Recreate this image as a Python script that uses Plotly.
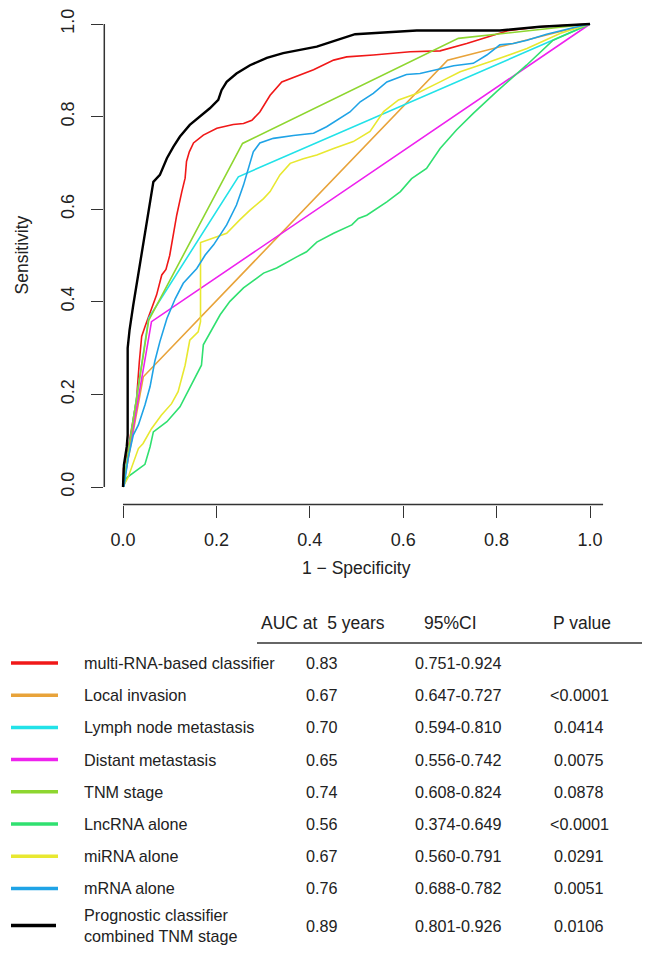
import plotly.graph_objects as go

W, H = 653, 953
OFF = 8  # the page body adds an 8px margin around the plot div
FONT = "Liberation Sans, Arial, Helvetica, sans-serif"

# ROC curves (x = 1 - specificity, y = sensitivity)
multi_fpr = [0, 0.001, 0.010, 0.029, 0.035, 0.038, 0.040, 0.047, 0.058, 0.072, 0.083, 0.092, 0.100,
             0.115, 0.126, 0.133, 0.136, 0.142, 0.151, 0.172, 0.201, 0.236, 0.258, 0.276, 0.293, 0.315,
             0.340, 0.379, 0.408, 0.451, 0.479, 0.536, 0.615, 0.679, 0.736, 0.822, 0.893, 1.0]
multi_tpr = [0, 0.040, 0.076, 0.190, 0.271, 0.307, 0.325, 0.346, 0.375, 0.415, 0.458, 0.470, 0.500,
             0.587, 0.638, 0.667, 0.703, 0.724, 0.743, 0.760, 0.775, 0.783, 0.785, 0.792, 0.810, 0.846,
             0.875, 0.890, 0.901, 0.922, 0.929, 0.933, 0.940, 0.942, 0.958, 0.985, 0.994, 1.0]

local_fpr = [0, 0.0435, 0.695, 1.0]
local_tpr = [0, 0.238, 0.922, 1.0]

lymph_fpr = [0, 0.055, 0.247, 1.0]
lymph_tpr = [0, 0.365, 0.670, 1.0]

distant_fpr = [0, 0.061, 1.0]
distant_tpr = [0, 0.357, 1.0]

tnm_fpr = [0, 0.055, 0.256, 0.718, 1.0]
tnm_tpr = [0, 0.360, 0.742, 0.969, 1.0]

lnc_fpr = [0, 0.009, 0.047, 0.058, 0.065, 0.094, 0.122, 0.143, 0.168, 0.172, 0.186, 0.208, 0.229,
           0.258, 0.301, 0.329, 0.372, 0.393, 0.415, 0.451, 0.490, 0.504, 0.522, 0.565, 0.594, 0.618,
           0.650, 0.679, 0.714, 0.750, 0.800, 0.864, 0.921, 1.0]
lnc_tpr = [0, 0.021, 0.049, 0.087, 0.119, 0.141, 0.173, 0.213, 0.263, 0.307, 0.332, 0.372, 0.401,
           0.430, 0.462, 0.473, 0.497, 0.508, 0.529, 0.548, 0.566, 0.580, 0.587, 0.616, 0.638, 0.666,
           0.688, 0.731, 0.771, 0.807, 0.854, 0.911, 0.965, 1.0]

mi_fpr = [0, 0.011, 0.033, 0.043, 0.061, 0.082, 0.104, 0.118, 0.133, 0.143, 0.161, 0.166, 0.166,
          0.186, 0.222, 0.250, 0.272, 0.301, 0.315, 0.336, 0.358, 0.386, 0.415, 0.451, 0.493, 0.529,
          0.558, 0.590, 0.629, 0.679, 0.722, 0.787, 0.865, 0.937, 1.0]
mi_tpr = [0, 0.021, 0.083, 0.094, 0.126, 0.155, 0.180, 0.206, 0.263, 0.317, 0.335, 0.357, 0.528,
          0.535, 0.548, 0.577, 0.598, 0.623, 0.638, 0.674, 0.699, 0.709, 0.717, 0.731, 0.746, 0.768,
          0.811, 0.836, 0.850, 0.875, 0.897, 0.919, 0.947, 0.980, 1.0]

m_fpr = [0.002, 0.011, 0.022, 0.033, 0.047, 0.058, 0.068, 0.079, 0.094, 0.112, 0.129, 0.158, 0.176,
         0.194, 0.222, 0.243, 0.258, 0.268, 0.279, 0.293, 0.322, 0.365, 0.408, 0.436, 0.465, 0.486,
         0.508, 0.536, 0.565, 0.607, 0.636, 0.679, 0.708, 0.750, 0.779, 0.807, 0.836, 0.865, 0.907,
         0.964, 1.0]
m_tpr = [0, 0.062, 0.112, 0.134, 0.177, 0.217, 0.271, 0.314, 0.364, 0.407, 0.440, 0.472, 0.501,
         0.523, 0.566, 0.609, 0.652, 0.688, 0.724, 0.743, 0.753, 0.759, 0.764, 0.778, 0.796, 0.810,
         0.832, 0.850, 0.875, 0.891, 0.893, 0.904, 0.910, 0.915, 0.933, 0.955, 0.958, 0.965, 0.978,
         0.992, 1.0]

prog_fpr = [0, 0.002, 0.008, 0.010, 0.010, 0.014, 0.022, 0.029, 0.036, 0.051, 0.058, 0.065, 0.079,
            0.094, 0.108, 0.122, 0.143, 0.165, 0.186, 0.204, 0.211, 0.222, 0.243, 0.272, 0.308, 0.343,
            0.400, 0.415, 0.451, 0.497, 0.629, 0.807, 0.893, 1.0]
prog_tpr = [0, 0.048, 0.087, 0.112, 0.300, 0.339, 0.393, 0.436, 0.486, 0.573, 0.616, 0.659, 0.674,
            0.710, 0.735, 0.757, 0.782, 0.800, 0.818, 0.836, 0.857, 0.875, 0.893, 0.911, 0.927, 0.937,
            0.947, 0.951, 0.963, 0.978, 0.986, 0.986, 0.994, 1.0]

# table
labels = ["multi-RNA-based classifier", "Local invasion", "Lymph node metastasis", "Distant metastasis",
          "TNM stage", "LncRNA alone", "miRNA alone", "mRNA alone",
          "Prognostic classifier<br>combined TNM stage"]
auc = ["0.83", "0.67", "0.70", "0.65", "0.74", "0.56", "0.67", "0.76", "0.89"]
ci = ["0.751-0.924", "0.647-0.727", "0.594-0.810", "0.556-0.742", "0.608-0.824", "0.374-0.649",
      "0.560-0.791", "0.688-0.782", "0.801-0.926"]
pvals = ["", "<0.0001", "0.0414", "0.0075", "0.0878", "<0.0001", "0.0291", "0.0051", "0.0106"]
colors = ["#F01818", "#E8A33A", "#22E2E8", "#EE22EE", "#8ED630", "#30E070", "#E8E830", "#1FA3E6", "#000000"]
curves = [(multi_fpr, multi_tpr), (local_fpr, local_tpr), (lymph_fpr, lymph_tpr), (distant_fpr, distant_tpr),
          (tnm_fpr, tnm_tpr), (lnc_fpr, lnc_tpr), (mi_fpr, mi_tpr), (m_fpr, m_tpr), (prog_fpr, prog_tpr)]
ticks = [0, 0.2, 0.4, 0.6, 0.8, 1.0]
tick_text = ["0.0", "0.2", "0.4", "0.6", "0.8", "1.0"]


def px(x):
    return (x - OFF) / W


def py(y):
    return 1 - (y - OFF) / H


fig = go.Figure()
for (fx, fy), col in zip(curves, colors):
    fig.add_trace(go.Scatter(x=fx, y=fy, mode="lines", hoverinfo="skip", showlegend=False,
                             line=dict(color=col, width=2.4 if col == "#000000" else 1.6)))

axis_common = dict(tickvals=ticks, ticktext=tick_text, ticks="outside", ticklen=12,
                   tickwidth=1.3, tickcolor="#333", showline=False, showgrid=False, zeroline=False,
                   tickfont=dict(size=18, color="#222", family=FONT), automargin=False, fixedrange=True)

# pixel frame of the data: x 0..1 -> 123..590, y 0..1 -> 487..24
x_lo, x_hi = 104.3, 608.7
y_top, y_bot = OFF, 504.5
fig.update_layout(
    width=W, height=H,
    margin=dict(l=0, r=0, t=0, b=0),
    paper_bgcolor="white", plot_bgcolor="white",
    font=dict(family=FONT, color="#222"),
    xaxis=dict(domain=[px(x_lo), px(x_hi)],
               range=[(x_lo - 123) / 467, (x_hi - 123) / 467],
               ticklabelstandoff=7, **axis_common),
    yaxis=dict(domain=[py(y_bot), py(y_top)],
               range=[(487 - y_bot) / 463, (487 - y_top) / 463],
               tickangle=-90, ticklabelstandoff=10, **axis_common),
)

# R-style axis lines
fig.add_shape(type="line", xref="x domain", yref="y", x0=0, x1=0, y0=0, y1=1,
              line=dict(color="#333", width=1.5))
fig.add_shape(type="line", xref="x", yref="y domain", x0=0, x1=1.028, y0=0, y1=0,
              line=dict(color="#333", width=1.5))

fig.add_annotation(text="1 \u2212 Specificity", x=px(356.5), y=py(568), xref="paper", yref="paper",
                   showarrow=False, font=dict(size=17.5), xanchor="center", yanchor="middle")
fig.add_annotation(text="Sensitivity", x=px(22), y=py(255.5), xref="paper", yref="paper",
                   showarrow=False, font=dict(size=17.5), textangle=-90, xanchor="center", yanchor="middle")

# table header and rule
head_y = 622.5
for txt, cx in [("AUC at\u00a0 5 years", 323), ("95%CI", 451), ("P value", 582)]:
    fig.add_annotation(text=txt, x=px(cx), y=py(head_y), xref="paper", yref="paper", showarrow=False,
                       font=dict(size=17.5), xanchor="center", yanchor="middle")
fig.add_shape(type="line", xref="paper", yref="paper", x0=px(257), x1=px(642), y0=py(643), y1=py(643),
              line=dict(color="#666", width=1.8))

row_y = [663 + 32.2 * i for i in range(8)] + [925.5]
for i, (lab, a, c, p, col) in enumerate(zip(labels, auc, ci, pvals, colors)):
    y = py(row_y[i])
    x_end = 56 if col == "#000000" else 58
    fig.add_shape(type="line", xref="paper", yref="paper", x0=px(11), x1=px(x_end), y0=y, y1=y,
                  line=dict(color=col, width=3.5))
    fig.add_annotation(text=lab, x=px(82), y=y, xref="paper", yref="paper", showarrow=False,
                       font=dict(size=16.2), xanchor="left", yanchor="middle", align="left")
    fig.add_annotation(text=a, x=px(322), y=y, xref="paper", yref="paper", showarrow=False,
                       font=dict(size=16.2), xanchor="center", yanchor="middle")
    fig.add_annotation(text=c, x=px(458), y=y, xref="paper", yref="paper", showarrow=False,
                       font=dict(size=16.2), xanchor="center", yanchor="middle")
    if p:
        fig.add_annotation(text=p, x=px(579), y=y, xref="paper", yref="paper", showarrow=False,
                           font=dict(size=16.2), xanchor="center", yanchor="middle")

fig.write_html("out.html")
